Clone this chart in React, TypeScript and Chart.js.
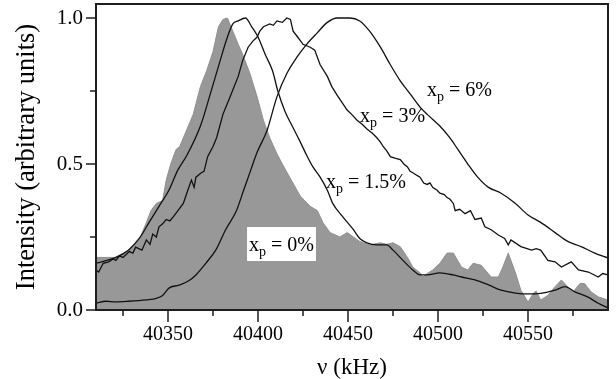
import React, { useEffect, useRef } from "react";
import { Chart, registerables } from "chart.js";

Chart.register(...registerables);

// ---- data (frequency in kHz, normalised intensity) ----
const freq0 = [40310, 40321, 40328, 40334, 40338, 40340.5, 40343.5, 40347, 40349, 40351.5, 40354.5, 40356.5, 40364, 40368, 40371.5, 40375, 40378, 40380.5, 40383, 40386, 40389, 40391.5, 40395.5, 40399.5, 40403, 40406.5, 40410.5, 40413.5, 40418, 40423.5, 40429, 40433, 40436, 40440, 40445.5, 40449.5, 40453, 40456.5, 40462, 40468, 40471.5, 40475, 40479, 40483, 40486, 40490, 40491.5, 40494, 40497, 40501, 40505, 40508.5, 40513, 40516.5, 40519.5, 40524, 40529.5, 40533.5, 40536, 40539, 40543, 40546, 40550, 40553, 40554.5, 40557, 40561, 40565, 40568.5, 40572, 40575, 40579, 40581.5, 40585, 40589, 40594.4];
const int0 = [0.18, 0.18, 0.205, 0.24, 0.30, 0.34, 0.365, 0.375, 0.445, 0.50, 0.55, 0.56, 0.67, 0.765, 0.82, 0.885, 0.97, 0.995, 1.0, 0.955, 0.91, 0.875, 0.81, 0.73, 0.65, 0.59, 0.535, 0.50, 0.45, 0.39, 0.355, 0.34, 0.30, 0.265, 0.25, 0.265, 0.25, 0.235, 0.223, 0.23, 0.225, 0.23, 0.217, 0.18, 0.147, 0.127, 0.113, 0.125, 0.137, 0.16, 0.195, 0.195, 0.147, 0.137, 0.16, 0.153, 0.113, 0.113, 0.147, 0.195, 0.127, 0.068, 0.027, 0.058, 0.065, 0.034, 0.05, 0.08, 0.103, 0.08, 0.062, 0.092, 0.09, 0.062, 0.045, 0.034];

const freq15 = [40310, 40321, 40328, 40334, 40339.5, 40345, 40350.5, 40355.5, 40360.5, 40368, 40373.5, 40379, 40383, 40386, 40389, 40393, 40396.5, 40400, 40404, 40408, 40411, 40415, 40419, 40423.5, 40427, 40430.5, 40434.5, 40438.5, 40441.5, 40447, 40453, 40456.5, 40460.5, 40466, 40471.5, 40475, 40480.5, 40486, 40490, 40494, 40501, 40508.5, 40513, 40520.5, 40528, 40535, 40543, 40550, 40557, 40565, 40570.5, 40576, 40583, 40589, 40594.4];
const int15 = [0.16, 0.18, 0.205, 0.245, 0.30, 0.355, 0.41, 0.48, 0.53, 0.63, 0.74, 0.855, 0.935, 0.98, 0.99, 1.0, 0.97, 0.935, 0.875, 0.82, 0.75, 0.68, 0.63, 0.575, 0.53, 0.49, 0.455, 0.41, 0.365, 0.32, 0.275, 0.245, 0.23, 0.223, 0.223, 0.205, 0.17, 0.137, 0.12, 0.12, 0.127, 0.12, 0.113, 0.103, 0.086, 0.068, 0.058, 0.055, 0.057, 0.068, 0.08, 0.062, 0.045, 0.023, 0.007];

const freq3 = [40310, 40311.5, 40314, 40317, 40319.5, 40321, 40323, 40325, 40328.5, 40330.5, 40332, 40335.5, 40338, 40340, 40341.5, 40343.5, 40345, 40347, 40349, 40351, 40353, 40355.5, 40358.5, 40361, 40363, 40364.5, 40365.5, 40368.5, 40370, 40372, 40375, 40377, 40380.5, 40384.5, 40389, 40391.5, 40394.5, 40397, 40399.5, 40401, 40403, 40406.5, 40408.5, 40410.5, 40413.5, 40416, 40418, 40419.5, 40422, 40425, 40429, 40431.5, 40434.5, 40438.5, 40441, 40444, 40449.5, 40452, 40455, 40458, 40460.5, 40463.5, 40466, 40468, 40469.5, 40471.5, 40473.5, 40476, 40479, 40481, 40483, 40484.5, 40486, 40488.5, 40490, 40492, 40494, 40495.5, 40497, 40499.5, 40501, 40503.5, 40505, 40506.5, 40508.5, 40509.5, 40512, 40515, 40518, 40520.5, 40524, 40526, 40529.5, 40533.5, 40537, 40539, 40540.5, 40546, 40552, 40554.5, 40557, 40561, 40565, 40568.5, 40574, 40578, 40583.5, 40589, 40591.5, 40594.4];
const int3 = [0.137, 0.13, 0.16, 0.165, 0.175, 0.17, 0.185, 0.18, 0.20, 0.195, 0.215, 0.205, 0.24, 0.225, 0.26, 0.25, 0.285, 0.295, 0.31, 0.305, 0.32, 0.34, 0.365, 0.41, 0.445, 0.42, 0.455, 0.47, 0.475, 0.525, 0.56, 0.59, 0.67, 0.73, 0.80, 0.855, 0.90, 0.92, 0.935, 0.955, 0.97, 0.98, 0.975, 0.99, 0.985, 1.0, 0.995, 0.955, 0.935, 0.91, 0.90, 0.89, 0.84, 0.80, 0.765, 0.735, 0.685, 0.67, 0.65, 0.635, 0.62, 0.605, 0.59, 0.575, 0.56, 0.545, 0.525, 0.52, 0.515, 0.50, 0.49, 0.475, 0.47, 0.46, 0.455, 0.435, 0.43, 0.435, 0.42, 0.41, 0.40, 0.395, 0.385, 0.38, 0.365, 0.34, 0.345, 0.33, 0.34, 0.31, 0.315, 0.285, 0.275, 0.257, 0.245, 0.223, 0.24, 0.217, 0.205, 0.21, 0.205, 0.17, 0.165, 0.147, 0.165, 0.137, 0.13, 0.113, 0.125, 0.12];

const freq6 = [40310, 40315.5, 40321, 40328, 40338, 40343.5, 40347, 40350.5, 40356, 40361.5, 40365.5, 40371, 40376.5, 40382, 40388, 40392, 40396, 40399.5, 40405, 40410.5, 40416, 40421.5, 40427, 40433, 40438.5, 40444, 40451, 40456.5, 40462, 40468, 40473.5, 40479, 40484.5, 40490, 40494, 40501, 40506.5, 40511, 40516.5, 40522, 40528, 40535, 40543, 40550, 40557, 40565, 40572, 40579.5, 40587, 40594.4];
const int6 = [0.024, 0.03, 0.028, 0.03, 0.035, 0.04, 0.05, 0.075, 0.085, 0.10, 0.12, 0.16, 0.205, 0.275, 0.34, 0.41, 0.48, 0.54, 0.615, 0.73, 0.81, 0.865, 0.91, 0.95, 0.985, 1.0, 1.0, 0.99, 0.955, 0.90, 0.84, 0.785, 0.74, 0.695, 0.67, 0.63, 0.59, 0.55, 0.50, 0.455, 0.42, 0.40, 0.365, 0.325, 0.30, 0.265, 0.235, 0.217, 0.195, 0.178];

const xMajorTicks = [40350, 40400, 40450, 40500, 40550];
const xMinorTicks = [40325, 40375, 40425, 40475, 40525, 40575];
const yMajorTicks = [0, 0.5, 1.0];
const yMinorTicks = [0.25, 0.75];
const X_MIN = 40310;
const X_MAX = 40594.4;
const Y_MIN = 0;
const Y_MAX = 1.048;

const seriesLabels = ["6%", "3%", "1.5%", "0%"];
const labelFreq = [40493.9, 40456.7, 40437.8, 40395];
const labelInt = [0.733, 0.644, 0.418, 0.202];

const FONT = '"Liberation Serif", "Times New Roman", serif';
const FRAME = "#1e1e1e";

function pts(xs: number[], ys: number[]) {
  const n = Math.min(xs.length, ys.length);
  const out: { x: number; y: number }[] = [];
  for (let i = 0; i < n; i++) out.push({ x: xs[i], y: ys[i] });
  return out;
}

function drawLabels(chart: any) {
  const { ctx, scales } = chart;
  const x = scales.x;
  const y = scales.y;
  ctx.save();
  for (let i = 0; i < seriesLabels.length; i++) {
    const px = x.getPixelForValue(labelFreq[i]);
    const py = y.getPixelForValue(labelInt[i]);
    ctx.font = `20px ${FONT}`;
    const wx = ctx.measureText("x").width;
    const rest = " = " + seriesLabels[i];
    const wr = ctx.measureText(rest).width;
    ctx.font = `14px ${FONT}`;
    const wp = ctx.measureText("p").width;
    const total = wx + wp + wr;
    if (i === 3) {
      ctx.fillStyle = "#ffffff";
      ctx.fillRect(px - 2, py - 24, total + 4, 34);
    }
    ctx.fillStyle = "#000";
    ctx.textBaseline = "alphabetic";
    ctx.textAlign = "left";
    ctx.font = `20px ${FONT}`;
    ctx.fillText("x", px, py);
    ctx.font = `14px ${FONT}`;
    ctx.fillText("p", px + wx, py + 5);
    ctx.font = `20px ${FONT}`;
    ctx.fillText(rest, px + wx + wp, py);
  }
  ctx.restore();
}

function drawFrame(chart: any) {
  const { ctx, scales } = chart;
  const x = scales.x;
  const y = scales.y;
  const L = x.getPixelForValue(X_MIN);
  const R = x.getPixelForValue(X_MAX);
  const T = y.getPixelForValue(Y_MAX);
  const B = y.getPixelForValue(Y_MIN);
  const w = 2;
  ctx.save();
  ctx.fillStyle = FRAME;
  ctx.fillRect(L - w / 2, T - w / 2, R - L + w, w);
  ctx.fillRect(L - w / 2, B - w / 2, R - L + w, w);
  ctx.fillRect(L - w / 2, T - w / 2, w, B - T + w);
  ctx.fillRect(R - w / 2, T - w / 2, w, B - T + w);
  xMajorTicks.forEach((v) => {
    const p = Math.round(x.getPixelForValue(v));
    ctx.fillRect(p - 0.75, B, 1.5, 12);
  });
  xMinorTicks.forEach((v) => {
    const p = Math.round(x.getPixelForValue(v));
    ctx.fillRect(p - 0.75, B, 1.5, 6);
  });
  yMajorTicks.forEach((v) => {
    const p = Math.round(y.getPixelForValue(v));
    ctx.fillRect(L - 10, p - 0.75, 10, 1.5);
  });
  yMinorTicks.forEach((v) => {
    const p = Math.round(y.getPixelForValue(v));
    ctx.fillRect(L - 6, p - 0.75, 6, 1.5);
  });
  ctx.restore();
}

const decorPlugin = {
  id: "decor",
  afterDatasetsDraw(chart: any) {
    drawLabels(chart);
  },
  afterDraw(chart: any) {
    drawFrame(chart);
  },
};

export default function App() {
  const ref = useRef<HTMLCanvasElement | null>(null);
  useEffect(() => {
    if (!ref.current) return;
    const chart = new Chart(ref.current, {
      type: "line",
      data: {
        datasets: [
          {
            label: "xp = 6%",
            data: pts(freq6, int6),
            borderColor: "#111",
            borderWidth: 1.3,
            pointRadius: 0,
            fill: false,
            cubicInterpolationMode: "monotone",
            order: 1,
          },
          {
            label: "xp = 3%",
            data: pts(freq3, int3),
            borderColor: "#111",
            borderWidth: 1.3,
            pointRadius: 0,
            fill: false,
            tension: 0,
            order: 2,
          },
          {
            label: "xp = 1.5%",
            data: pts(freq15, int15),
            borderColor: "#111",
            borderWidth: 1.3,
            pointRadius: 0,
            fill: false,
            cubicInterpolationMode: "monotone",
            order: 3,
          },
          {
            label: "xp = 0%",
            data: pts(freq0, int0),
            borderColor: "#8f8f8f",
            backgroundColor: "#989898",
            borderWidth: 1,
            pointRadius: 0,
            fill: "origin",
            tension: 0,
            order: 10,
          },
        ],
      },
      options: {
        animation: false,
        responsive: false,
        maintainAspectRatio: false,
        events: [],
        layout: { padding: { top: 4, right: 8, left: 0, bottom: 0 } },
        plugins: { legend: { display: false }, tooltip: { enabled: false } },
        scales: {
          x: {
            type: "linear",
            min: X_MIN,
            max: X_MAX,
            afterFit: (s: any) => {
              s.height = 69;
              s.paddingLeft = 0;
              s.paddingRight = 0;
            },
            afterBuildTicks: (s: any) => {
              s.ticks = xMajorTicks.map((v) => ({ value: v }));
            },
            grid: { display: false, drawTicks: false },
            border: { display: true, color: FRAME, width: 2 },
            ticks: {
              color: "#000",
              font: { family: FONT, size: 20 },
              padding: 13,
              maxRotation: 0,
              autoSkip: false,
              callback: (v: any) => String(v),
            },
            title: {
              display: true,
              text: "ν (kHz)",
              color: "#000",
              font: { family: FONT, size: 23, lineHeight: 1 },
              padding: { top: 0, bottom: 0 },
            },
          },
          y: {
            type: "linear",
            min: Y_MIN,
            max: Y_MAX,
            afterFit: (s: any) => {
              s.width = 96;
              s.paddingTop = 0;
              s.paddingBottom = 0;
            },
            afterBuildTicks: (s: any) => {
              s.ticks = yMajorTicks.map((v) => ({ value: v }));
            },
            grid: { display: false, drawTicks: false },
            border: { display: true, color: FRAME, width: 2 },
            ticks: {
              color: "#000",
              font: { family: FONT, size: 21 },
              padding: 13,
              callback: (v: any) => Number(v).toFixed(1),
            },
            title: {
              display: true,
              text: "Intensity (arbitrary units)",
              color: "#000",
              font: { family: FONT, size: 26.5, lineHeight: 1.2 },
              padding: { top: 11, bottom: 0 },
            },
          },
        },
      },
      plugins: [decorPlugin],
    });
    return () => chart.destroy();
  }, []);
  return (
    <div style={{ position: "fixed", left: 0, top: 0, width: 616, height: 379, background: "#fff" }}>
      <canvas ref={ref} width={616} height={379} />
    </div>
  );
}
